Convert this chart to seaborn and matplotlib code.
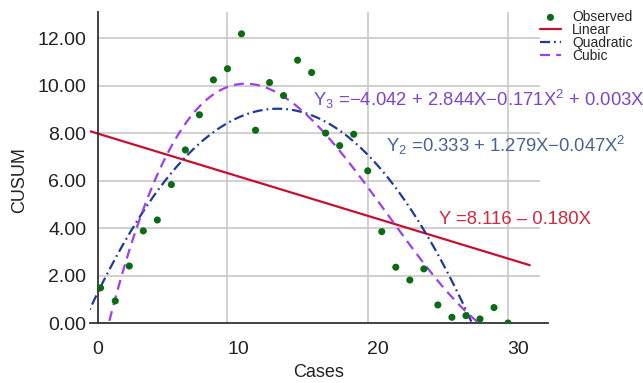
import numpy as np
import matplotlib
matplotlib.use("Agg")
import matplotlib.pyplot as plt
import seaborn as sns
from matplotlib.ticker import FormatStrFormatter

sns.set_style("white")
plt.rcParams["font.family"] = ["Liberation Sans", "DejaVu Sans"]
plt.rcParams["mathtext.fontset"] = "custom"
plt.rcParams["mathtext.rm"] = "Liberation Sans"
plt.rcParams["mathtext.it"] = "Liberation Sans:italic"

# ---------- data ----------
cases = [0.2, 1.25, 2.25, 3.25, 4.25, 5.25, 6.25, 7.25, 8.25, 9.25,
         10.25, 11.25, 12.25, 13.25, 14.25, 15.25, 16.25, 17.25, 18.25, 19.25,
         20.25, 21.25, 22.25, 23.25, 24.25, 25.25, 26.25, 27.25, 28.25, 29.25]
cusum = [1.48, 0.93, 2.40, 3.88, 4.34, 5.83, 7.29, 8.77, 10.24, 10.71,
         12.18, 8.12, 10.13, 9.58, 11.07, 10.55, 8.00, 7.47, 7.95, 6.41,
         3.85, 2.35, 1.81, 2.28, 0.76, 0.24, 0.31, 0.17, 0.65, 0.00]

eq_linear = "Y =8.116 \u2013 0.180X"
eq_quad = "Y$_2$ =0.333 + 1.279X\u22120.047X$^2$"
eq_cubic = "Y$_3$ =\u22124.042 + 2.844X\u22120.171X$^2$ + 0.003X$^3$"

green = "#0b6b12"
red = "#c8102e"
blue = "#1f3a93"
violet = "#9b3ff0"

# fitted curves (polynomial fits of the observed CUSUM)
xs = np.linspace(-1, 30.8, 400)
fits = {}
for deg in (1, 2, 3):
    fits[deg] = np.polyval(np.polyfit(cases, cusum, deg), xs)

fig = plt.figure(figsize=(6.43, 3.83), dpi=100)
ax = fig.add_axes([90 / 643, 1 - 323 / 383, 458 / 643, 311 / 383])

# grid
for yv in range(2, 13, 2):
    ax.hlines(yv, 0, 31.55, color="#c8c8c8", lw=1.2, zorder=0)
for xv in (9.25, 19.25, 29.25):
    ax.axvline(xv, color="#c8c8c8", lw=1.2, zorder=0)

sns.scatterplot(x=cases, y=cusum, ax=ax, color=green, s=26, edgecolor="none",
                zorder=5, label="Observed")
sns.lineplot(x=xs, y=fits[1], ax=ax, color=red, lw=1.6, label="Linear")
sns.lineplot(x=xs, y=fits[2], ax=ax, color=blue, lw=1.6, label="Quadratic",
             dashes=False).lines[-1].set_dashes([4.5, 1.8, 0.8, 1.8])
sns.lineplot(x=xs, y=fits[3], ax=ax, color=violet, lw=1.6, label="Cubic",
             dashes=False).lines[-1].set_dashes([4.5, 2.8])

ax.set_xlim(-0.55, 32.1)
ax.set_ylim(0, 13.1)
ax.set_xticks([0, 10, 20, 30])
ax.set_yticks(range(0, 13, 2))
ax.yaxis.set_major_formatter(FormatStrFormatter("%.2f"))
ax.tick_params(axis="both", direction="out", length=4.8, width=1.2,
               colors="#333333", labelsize=14, labelcolor="#222222")
ax.tick_params(axis="x", pad=8)

sns.despine(ax=ax)
ax.spines["left"].set_position(("data", 0))
for s in ("left", "bottom"):
    ax.spines[s].set_color("#333333")
    ax.spines[s].set_linewidth(1.3)

ax.set_xlabel("Cases", fontsize=13, color="#222222")
ax.set_ylabel("CUSUM", fontsize=13, color="#222222")
ax.xaxis.set_label_coords(0.5, -0.132)
ax.yaxis.set_label_coords(-0.135, 0.46)

ax.text(15.33, 9.16, eq_cubic, color="#7d45c9", fontsize=13.3, va="baseline",
        ha="left", clip_on=False)
ax.text(20.53, 7.22, eq_quad, color="#4a6491", fontsize=13.3, va="baseline",
        ha="left", clip_on=False)
ax.text(24.33, 4.17, eq_linear, color="#d3283d", fontsize=13.3, va="baseline",
        ha="left", clip_on=False)

handles, labels = ax.get_legend_handles_labels()
ax.get_legend().remove()
fig.legend(handles, labels, loc="upper left", bbox_to_anchor=(540 / 643, 1 - 10 / 383),
           frameon=False, fontsize=10, handlelength=1.5, handletextpad=0.8,
           labelspacing=-0.08, borderpad=0, borderaxespad=0)

fig.savefig("out.png", dpi=100)
